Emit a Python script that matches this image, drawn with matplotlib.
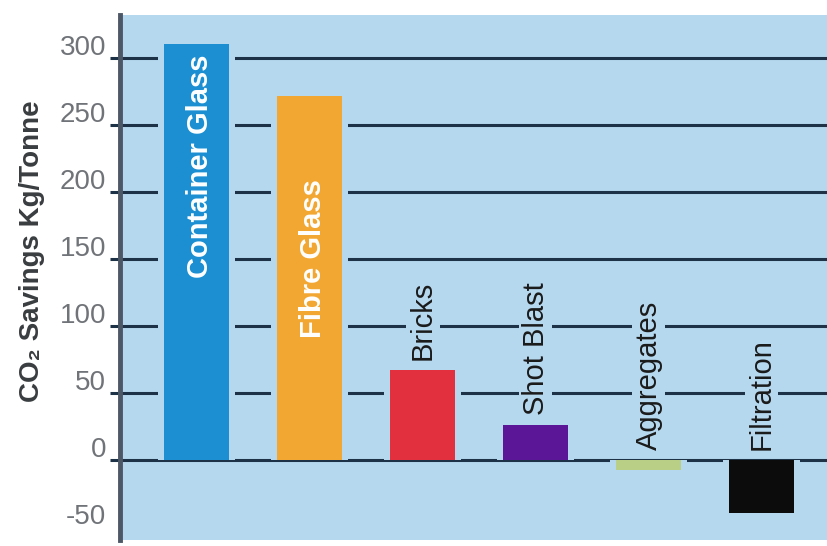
import matplotlib.pyplot as plt
import matplotlib.transforms as mtransforms

# data
categories = ['Container Glass', 'Fibre Glass', 'Bricks', 'Shot Blast', 'Aggregates', 'Filtration']
savings = [310, 271, 67, 26, -8, -40]
colors = ['#1b8fd2', '#f2a733', '#e2303e', '#5b1697', '#b9cf86', '#0c0c0c']
yticks = [-50, 0, 50, 100, 150, 200, 250, 300]

# white labels sit inside the two tall bars, the rest above them
inside_label = [True, True, False, False, False, False]
inside_drop = [8, 62, 0, 0, 0, 0]   # distance from bar top to label start

bg = '#b5d8ef'
grid_col = '#1d3147'

plt.rcParams['font.family'] = ['Liberation Sans', 'DejaVu Sans']
plt.rcParams['axes.unicode_minus'] = False

fig = plt.figure(figsize=(8.27, 5.46), dpi=100)
ax = fig.add_axes([0.145, 0.011, 0.855, 0.962])
ax.set_facecolor(bg)

x = range(len(categories))
w = 0.58

# grid lines (the -50 one is not drawn in the original)
for t in yticks:
    if t >= 0:
        ax.axhline(t, color=grid_col, linewidth=2.2, zorder=1)

# light halo under each bar breaks the grid lines like the original
ax.bar(x, savings, width=w + 0.1, color=bg, zorder=2)
ax.bar(x, savings, width=w, color=colors, zorder=3)

for i, (cat, val) in enumerate(zip(categories, savings)):
    if inside_label[i]:
        ax.text(i + 0.03, val - inside_drop[i], cat, rotation=90, ha='center', va='top',
                color='white', fontsize=21, fontweight='bold', zorder=4)
    else:
        ax.text(i, max(val, 0) + 7, cat, rotation=90, ha='center', va='bottom',
                color='#1a1a1a', fontsize=21, zorder=4,
                bbox=dict(facecolor=bg, edgecolor='none', pad=2))

ax.set_xlim(-0.68, 5.58)
ax.set_ylim(-60, 332)
ax.set_xticks([])
ax.set_yticks(yticks)

ax.tick_params(axis='y', direction='out', length=7, width=2.2, color=grid_col,
               labelsize=20, labelcolor='#707378', pad=3)
ax.yaxis.get_major_ticks()[0].tick1line.set_visible(False)
# numbers sit slightly above their lines in the original
offset = mtransforms.ScaledTranslation(0, 13 / 100, fig.dpi_scale_trans)
for lab in ax.get_yticklabels():
    lab.set_transform(lab.get_transform() + offset)

for side in ['top', 'right', 'bottom']:
    ax.spines[side].set_visible(False)
ax.spines['left'].set_color('#4d5866')
ax.spines['left'].set_linewidth(3.5)

ax.set_ylabel('CO₂ Savings Kg/Tonne', fontsize=20, color='#3a3d40', fontweight='bold')
ax.yaxis.set_label_coords(-0.106, 0.549)

fig.savefig('out.png', dpi=100, facecolor='white')
